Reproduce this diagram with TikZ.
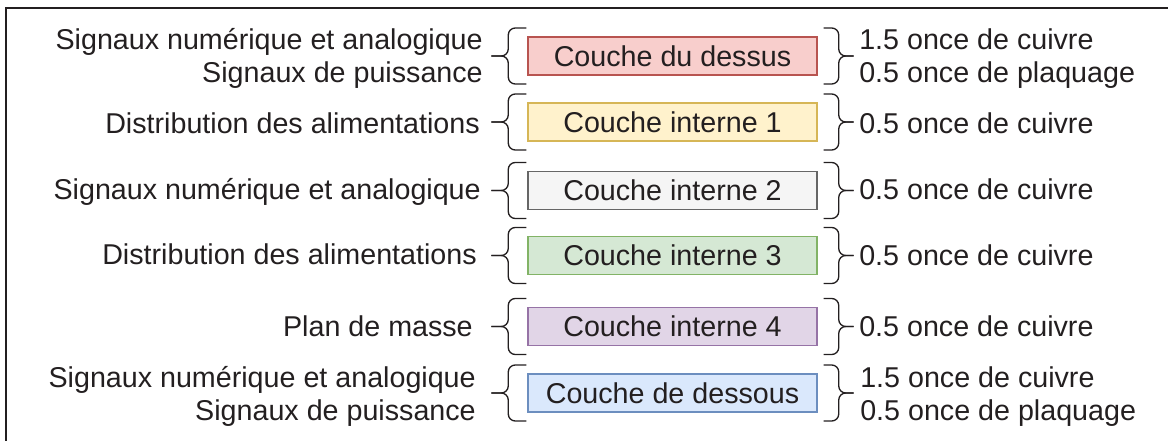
\documentclass[tikz,border=0pt]{standalone}
\usepackage{fontspec}
\setmainfont{Liberation Sans}
\usetikzlibrary{calc}
\definecolor{ink}{HTML}{231F20}
\definecolor{redF}{HTML}{F8CECC}\definecolor{redD}{HTML}{B85450}
\definecolor{yelF}{HTML}{FFF2CC}\definecolor{yelD}{HTML}{D6B656}
\definecolor{graF}{HTML}{F5F5F5}\definecolor{graD}{HTML}{666666}
\definecolor{greF}{HTML}{D5E8D4}\definecolor{greD}{HTML}{82B366}
\definecolor{purF}{HTML}{E1D5E7}\definecolor{purD}{HTML}{9673A6}
\definecolor{bluF}{HTML}{DAE8FC}\definecolor{bluD}{HTML}{6C8EBF}
\newcommand\leftbr[1]{%
  \draw[bracestyle] ($(#1.west)+(-1,-28)$) -- ($(#1.west)+(-19,-28)$) -- ($(#1.west)+(-19,0)$) -- ($(#1.west)+(-36,0)$);
  \draw[bracestyle] ($(#1.west)+(-1,28)$) -- ($(#1.west)+(-19,28)$) -- ($(#1.west)+(-19,0)$) -- ($(#1.west)+(-36,0)$);}
\newcommand\rightbr[1]{%
  \draw[bracestyle] ($(#1.east)+(6,-28)$) -- ($(#1.east)+(21,-28)$) -- ($(#1.east)+(21,0)$) -- ($(#1.east)+(36,0)$);
  \draw[bracestyle] ($(#1.east)+(6,28)$) -- ($(#1.east)+(21,28)$) -- ($(#1.east)+(21,0)$) -- ($(#1.east)+(36,0)$);}
\begin{document}
\begin{tikzpicture}[x=0.75pt,y=-0.75pt,
  every node/.style={font=\fontsize{21.5}{25}\selectfont, text=ink, inner sep=0pt},
  layer/.style={draw, line width=1.1pt, minimum width=216.75pt, minimum height=28.5pt},
  ltext/.style={anchor=base east},
  rtext/.style={anchor=base west},
  bracestyle/.style={draw=ink, line width=1pt, rounded corners=5.25pt},
  frame/.style={draw=ink, line width=1.1pt}]
\useasboundingbox (0,0) rectangle (1168,441);
\draw[frame] (6,441) -- (6,8) -- (1168,8);

\node[layer, fill=redF, draw=redD] (b1) at (672.5,56) {Couche du dessus};
\node[layer, fill=yelF, draw=yelD] (b2) at (672.5,122) {Couche interne 1};
\node[layer, fill=graF, draw=graD] (b3) at (672.5,190.5) {Couche interne 2};
\node[layer, fill=greF, draw=greD] (b4) at (672.5,255.5) {Couche interne 3};
\node[layer, fill=purF, draw=purD] (b5) at (672.5,326.5) {Couche interne 4};
\node[layer, fill=bluF, draw=bluD] (b6) at (672.5,393) {Couche de dessous};

\leftbr{b1}\leftbr{b2}\leftbr{b3}\leftbr{b4}\leftbr{b5}\leftbr{b6}
\rightbr{b1}\rightbr{b2}\rightbr{b3}\rightbr{b4}\rightbr{b5}\rightbr{b6}

\node[ltext] (l1a) at (483,50) {Signaux numérique et analogique};
\node[ltext] (l1b) at (483,83) {Signaux de puissance};
\node[ltext] (l2) at (480,134) {Distribution des alimentations};
\node[ltext] (l3) at (481,200) {Signaux numérique et analogique};
\node[ltext] (l4) at (477,265) {Distribution des alimentations};
\node[ltext] (l5) at (473,337) {Plan de masse};
\node[ltext] (l6a) at (476,388) {Signaux numérique et analogique};
\node[ltext] (l6b) at (476,421) {Signaux de puissance};

\node[rtext] (r1a) at (859,50) {1.5 once de cuivre};
\node[rtext] (r1b) at (859,83) {0.5 once de plaquage};
\node[rtext] (r2) at (859,134) {0.5 once de cuivre};
\node[rtext] (r3) at (859,200) {0.5 once de cuivre};
\node[rtext] (r4) at (859,266) {0.5 once de cuivre};
\node[rtext] (r5) at (859,337) {0.5 once de cuivre};
\node[rtext] (r6a) at (860,388) {1.5 once de cuivre};
\node[rtext] (r6b) at (860,421) {0.5 once de plaquage};
\end{tikzpicture}
\end{document}
